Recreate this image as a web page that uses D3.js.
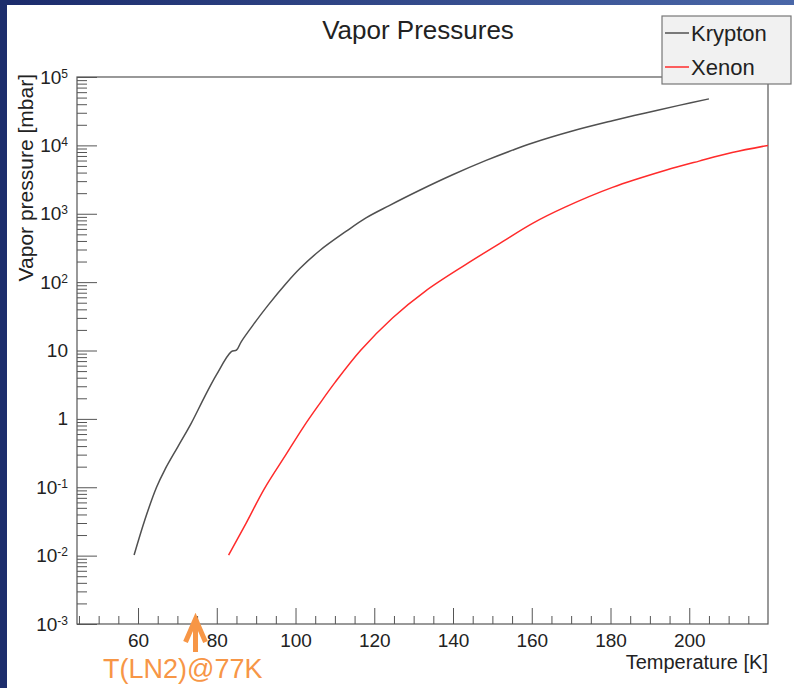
<!DOCTYPE html>
<html>
<head>
<meta charset="utf-8">
<script src="https://cdn.jsdelivr.net/npm/d3@7"></script>
<style>
  body { margin: 0; background: #fff; }
  text { font-family: "Liberation Sans", Arial, Helvetica, sans-serif; fill: #222; }
</style>
</head>
<body>
<svg id="chart" width="794" height="688"></svg>
<script>
// vapor pressure curves (T in K, p in mbar)
const kryptonT = [59, 61.7, 64.7, 66.8, 70.1, 73.5, 76.9, 79.9, 83.7, 85.0, 86.2, 89.2, 93.0, 97.6, 101.1, 106.1, 112.9, 117.9, 123.8, 131.4, 139.9, 148.4, 155.1, 160.2, 170.3, 180.5, 188.9, 197.4, 205];
const kryptonP = [0.0102, 0.033, 0.10, 0.18, 0.39, 0.86, 2.1, 4.4, 9.6, 10.1, 13.4, 23.5, 45.7, 95.5, 158, 288, 556, 871, 1318, 2188, 3715, 6026, 8511, 10840, 16220, 22910, 29850, 38460, 47860];
const xenonT = [83, 87.5, 92, 97.6, 102, 106.1, 110, 116.5, 124.7, 133, 143.3, 151.7, 160.2, 168.6, 180.5, 194.0, 202.5, 210.9, 220];
const xenonP = [0.0102, 0.0302, 0.0933, 0.302, 0.759, 1.66, 3.39, 10, 30.2, 74.1, 182, 363, 724, 1259, 2427, 4315, 5888, 7852, 10000];

const seriesNames = ["Krypton", "Xenon"];
const seriesColors = ["#505050", "#ff2b2b"];

const xMajorTicks = [60, 80, 100, 120, 140, 160, 180, 200];
const yDecades = [1e-3, 1e-2, 1e-1, 1, 10, 1e2, 1e3, 1e4, 1e5];
const yTickBase = ["10", "10", "10", "1", "10", "10", "10", "10", "10"];
const yTickExp = ["-3", "-2", "-1", "", "", "2", "3", "4", "5"];

const ln2Label = "T(LN2)@77K";
const ln2ArrowT = 74.6;

let svg = d3.select("#chart");

// slide background edges
let grad = svg.append("defs").append("linearGradient").attr("id", "band");
grad.append("stop").attr("offset", "0%").attr("stop-color", "#1b2b6b");
grad.append("stop").attr("offset", "100%").attr("stop-color", "#4a67a8");
svg.append("rect").attr("x", 0).attr("y", 0).attr("width", 794).attr("height", 5).attr("fill", "url(#band)");
svg.append("rect").attr("x", 0).attr("y", 0).attr("width", 7).attr("height", 688).attr("fill", "#1c2d6c");

const plotL = 77, plotR = 768, plotT = 77, plotB = 624;

let x = d3.scaleLinear().domain([44.5, 220]).range([plotL, plotR]);
let y = d3.scaleLog().domain([1e-3, 1e5]).range([plotB, plotT]);

svg.append("clipPath").attr("id", "plot")
  .append("rect").attr("x", plotL).attr("y", plotT).attr("width", plotR - plotL).attr("height", plotB - plotT);

// x axis: major + minor ticks pointing into the frame
let xg = svg.append("g").attr("transform", `translate(0,${plotB})`)
  .call(d3.axisBottom(x).tickValues(xMajorTicks).tickSizeInner(-16).tickSizeOuter(0).tickPadding(10));
xg.append("g").call(d3.axisBottom(x)
  .tickValues(d3.range(45, 220, 5).filter(v => !xMajorTicks.includes(v)))
  .tickSizeInner(-8).tickSizeOuter(0).tickFormat(""));
xg.selectAll(".domain").remove();
xg.selectAll("line").attr("stroke", "#555");
xg.selectAll("text").attr("font-size", 19).attr("fill", "#222");

// y axis: decades with superscript labels, plus 2..9 minors
let minors = [];
yDecades.slice(0, -1).forEach(d => { for (let k = 2; k <= 9; k++) minors.push(d * k); });

let yg = svg.append("g").attr("transform", `translate(${plotL},0)`)
  .call(d3.axisLeft(y).tickValues(yDecades).tickSizeInner(-20).tickSizeOuter(0).tickPadding(9).tickFormat(""));
yg.append("g").call(d3.axisLeft(y).tickValues(minors).tickSizeInner(-10).tickSizeOuter(0).tickFormat(""));
yg.selectAll(".domain").remove();
yg.selectAll("line").attr("stroke", "#555");
yg.selectAll(".tick text").filter(d => yDecades.includes(d)).each(function (d) {
  let i = yDecades.indexOf(d);
  let t = d3.select(this).attr("font-size", 19).attr("fill", "#222");
  t.append("tspan").text(yTickBase[i]);
  if (yTickExp[i]) t.append("tspan").attr("dy", "-0.5em").attr("font-size", 12).text(yTickExp[i]);
});

// frame
svg.append("rect").attr("x", plotL).attr("y", plotT).attr("width", plotR - plotL).attr("height", plotB - plotT)
  .attr("fill", "none").attr("stroke", "#555").attr("stroke-width", 1.2);

// curves
let line = d3.line().x(d => x(d[0])).y(d => y(d[1])).curve(d3.curveCatmullRom.alpha(0.5));
let series = [d3.zip(kryptonT, kryptonP), d3.zip(xenonT, xenonP)];
svg.append("g").attr("clip-path", "url(#plot)")
  .selectAll("path").data(series).enter().append("path")
  .attr("d", d => line(d))
  .attr("fill", "none")
  .attr("stroke", (d, i) => seriesColors[i])
  .attr("stroke-width", 1.5);

// titles
svg.append("text").attr("x", 418).attr("y", 39).attr("text-anchor", "middle")
  .attr("font-size", 26).text("Vapor Pressures");
svg.append("text").attr("transform", `translate(33,${plotT - 3}) rotate(-90)`)
  .attr("text-anchor", "end").attr("font-size", 21).text("Vapor pressure [mbar]");
svg.append("text").attr("x", plotR).attr("y", 669).attr("text-anchor", "end")
  .attr("font-size", 20).text("Temperature [K]");

// legend
let lg = svg.append("g");
lg.append("rect").attr("x", 662).attr("y", 16).attr("width", 129).attr("height", 68)
  .attr("fill", "#f1f1f1").attr("stroke", "#777").attr("stroke-width", 1.2);
seriesNames.forEach((name, i) => {
  let cy = 33 + i * 34;
  lg.append("line").attr("x1", 665).attr("x2", 689).attr("y1", cy).attr("y2", cy)
    .attr("stroke", seriesColors[i]).attr("stroke-width", 1.5);
  lg.append("text").attr("x", 691).attr("y", cy + 8).attr("font-size", 22).text(name);
});

// LN2 annotation
let ax = x(ln2ArrowT);
svg.append("path")
  .attr("d", `M${ax},652 L${ax},619 M${ax - 10},642 L${ax},619 L${ax + 10},642`)
  .attr("fill", "none").attr("stroke", "#f79646").attr("stroke-width", 5)
  .attr("stroke-linejoin", "miter").attr("stroke-linecap", "butt");
svg.append("text").attr("x", 103).attr("y", 678).attr("font-size", 27)
  .style("fill", "#f79646").text(ln2Label);
</script>
</body>
</html>
